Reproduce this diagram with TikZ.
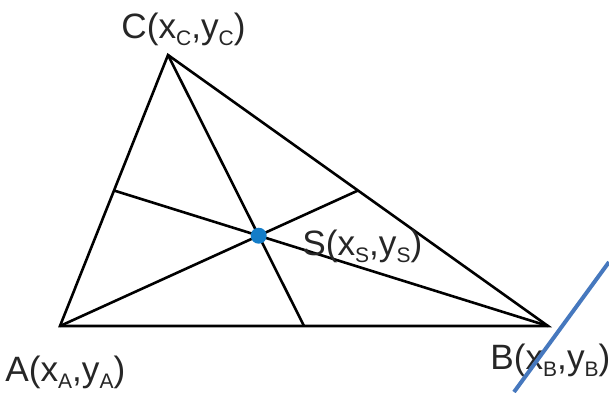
\documentclass[tikz,border=0pt]{standalone}
\usepackage{fontspec}
\setmainfont{Liberation Sans}
\usetikzlibrary{calc}
\newcommand\subl[1]{\raisebox{-0.4ex}{\fontsize{10.5}{11}\selectfont #1}}
\definecolor{dotblue}{RGB}{20,125,200}
\definecolor{lineblue}{RGB}{70,120,190}
\begin{document}
\begin{tikzpicture}[x=0.5pt,y=-0.5pt,
  edge/.style={line width=1.3pt,black},
  lbl/.style={anchor=base west,inner sep=0pt,font=\fontsize{17.6}{21}\selectfont,text=black!85},
  dot/.style={circle,fill=dotblue,inner sep=0pt,minimum size=8pt}]
\useasboundingbox (0,0) rectangle (609,392);
\coordinate (A) at (60,326);
\coordinate (B) at (548,326);
\coordinate (C) at (168,55);
\coordinate (MBC) at ($(B)!0.5!(C)$);
\coordinate (MAB) at ($(A)!0.5!(B)$);
\coordinate (MAC) at ($(A)!0.5!(C)$);
\draw[edge,line join=miter] (A) -- (B) -- (C) -- cycle;
\draw[edge] (A) -- (MBC);
\draw[edge] (C) -- (MAB);
\draw[edge] (B) -- (MAC);
\node[dot] (S) at (258.7,235.7) {};
\node[lbl] (LA) at (5,381) {A(x\subl{A},y\subl{A})};
\node[lbl] (LB) at (490,369) {B(x\subl{B},y\subl{B})};
\node[lbl] (LC) at (121,38) {C(x\subl{C},y\subl{C})};
\node[lbl] (LS) at (302,255) {S(x\subl{S},y\subl{S})};
\coordinate (P1) at (514,392);
\coordinate (P2) at (609,262);
\draw[line width=2pt,lineblue] (P1) -- (P2);
\end{tikzpicture}
\end{document}
